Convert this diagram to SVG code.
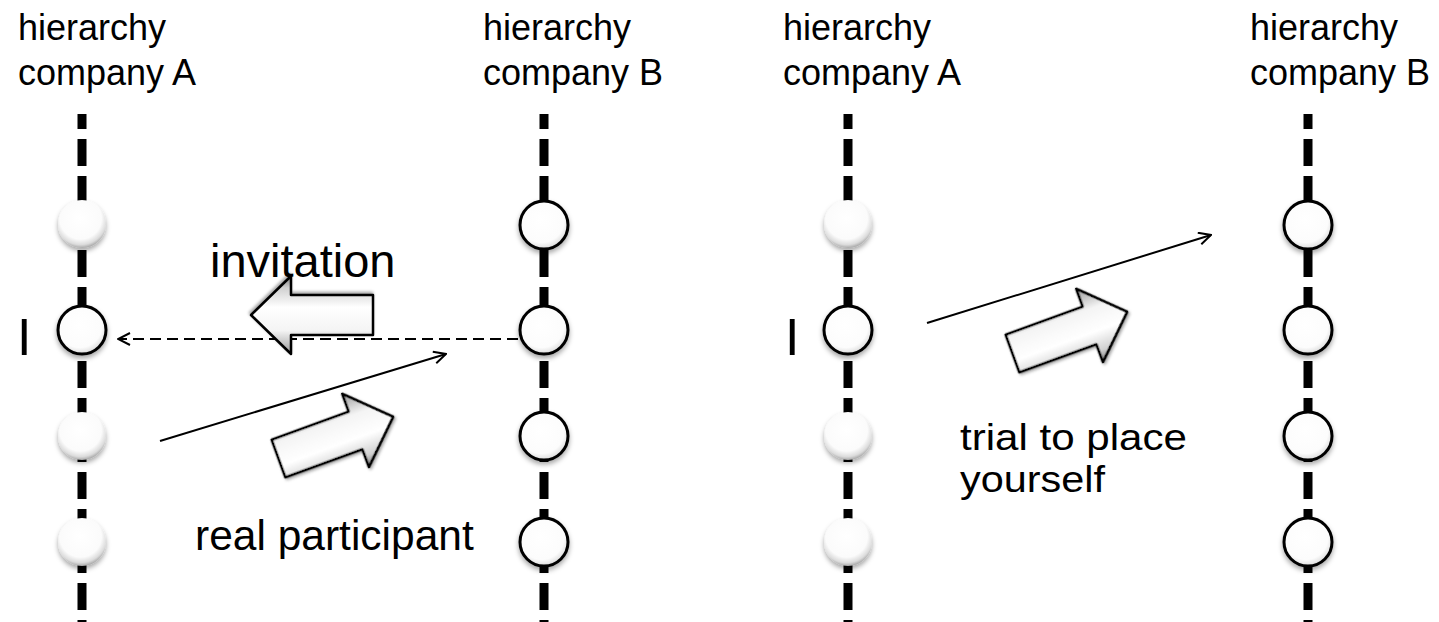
<svg xmlns="http://www.w3.org/2000/svg" width="1439" height="622" viewBox="0 0 1439 622">
<style>
.lbl{font-family:"Liberation Sans",Arial,sans-serif;fill:#000}
.axis{stroke:#000;stroke-width:9;stroke-dasharray:27 10;stroke-dashoffset:12;fill:none}
.shaded{fill:url(#gShade);filter:url(#sh)}
.ring{fill:url(#gRing);stroke:#000;stroke-width:3;filter:url(#sh)}
.conn{stroke:#000;stroke-width:2;fill:none}
.dash{stroke-dasharray:11 6}
.blk{fill:url(#gArrow);stroke:#000;stroke-width:2.5;stroke-linejoin:round;filter:url(#sh2)}
</style>
<defs>
<radialGradient id="gShade" cx="0.47" cy="0.38" r="0.64">
<stop offset="0" stop-color="#fff"/>
<stop offset="0.68" stop-color="#fbfbfb"/>
<stop offset="0.86" stop-color="#dcdcdc"/>
<stop offset="1" stop-color="#9a9a9a"/>
</radialGradient>
<radialGradient id="gRing" cx="0.45" cy="0.4" r="0.62">
<stop offset="0" stop-color="#fff"/>
<stop offset="0.75" stop-color="#fcfcfc"/>
<stop offset="1" stop-color="#d8d8d8"/>
</radialGradient>
<linearGradient id="gArrow" x1="0" y1="0" x2="0" y2="1">
<stop offset="0" stop-color="#9a9a9a"/>
<stop offset="0.3" stop-color="#f4f4f4"/>
<stop offset="0.6" stop-color="#ffffff"/>
<stop offset="0.85" stop-color="#d0d0d0"/>
<stop offset="1" stop-color="#7a7a7a"/>
</linearGradient>
<filter id="sh" x="-30%" y="-30%" width="160%" height="170%">
<feDropShadow dx="0" dy="3" stdDeviation="2.5" flood-color="#000" flood-opacity="0.35"/>
</filter>
<filter id="sh2" x="-20%" y="-30%" width="140%" height="170%">
<feDropShadow dx="1" dy="2" stdDeviation="1.5" flood-color="#000" flood-opacity="0.35"/>
</filter>
<marker id="open" viewBox="0 0 14 14" refX="13" refY="7" markerWidth="14" markerHeight="14" markerUnits="userSpaceOnUse" orient="auto">
<path d="M1,1 L13,7 L1,13" fill="none" stroke="#000" stroke-width="2"/>
</marker>
<path id="blockArrow" d="M0,-20 L82,-20 L82,-39 L122,0 L82,39 L82,20 L0,20 Z"/>
</defs>

<g id="labels">
<text class="lbl" x="18" y="40" font-size="36">hierarchy</text>
<text class="lbl" x="18" y="85" font-size="36">company A</text>
<text class="lbl" x="483" y="40" font-size="36">hierarchy</text>
<text class="lbl" x="483" y="85" font-size="36">company B</text>
<text class="lbl" x="783" y="40" font-size="36">hierarchy</text>
<text class="lbl" x="783" y="85" font-size="36">company A</text>
<text class="lbl" x="1250" y="40" font-size="36">hierarchy</text>
<text class="lbl" x="1250" y="85" font-size="36">company B</text>
<text class="lbl" x="17" y="355" font-size="52">I</text>
<text class="lbl" x="785" y="355" font-size="52">I</text>
</g>

<g id="axes">
<line class="axis" x1="82" y1="114" x2="82" y2="622"/>
<line class="axis" x1="544" y1="114" x2="544" y2="622"/>
<line class="axis" x1="848" y1="114" x2="848" y2="622"/>
<line class="axis" x1="1308" y1="114" x2="1308" y2="622"/>
</g>

<g id="left-A">
<circle class="shaded" cx="82" cy="224" r="24"/>
<circle class="ring" cx="82" cy="330" r="24"/>
<circle class="shaded" cx="82" cy="436" r="24"/>
<circle class="shaded" cx="82" cy="542" r="24"/>
</g>
<g id="left-B">
<circle class="ring" cx="544" cy="225" r="24"/>
<circle class="ring" cx="544" cy="330" r="24"/>
<circle class="ring" cx="544" cy="436" r="24"/>
<circle class="ring" cx="544" cy="542" r="24"/>
</g>
<g id="right-A">
<circle class="shaded" cx="848" cy="224" r="24"/>
<circle class="ring" cx="848" cy="330" r="24"/>
<circle class="shaded" cx="848" cy="436" r="24"/>
<circle class="shaded" cx="848" cy="542" r="24"/>
</g>
<g id="right-B">
<circle class="ring" cx="1308" cy="225" r="24"/>
<circle class="ring" cx="1308" cy="330" r="24"/>
<circle class="ring" cx="1308" cy="436" r="24"/>
<circle class="ring" cx="1308" cy="542" r="24"/>
</g>

<g id="connectors">
<line class="conn dash" x1="518" y1="339" x2="118" y2="339" marker-end="url(#open)"/>
<line class="conn" x1="160" y1="441" x2="446" y2="354" marker-end="url(#open)"/>
<line class="conn" x1="927" y1="323" x2="1211" y2="235" marker-end="url(#open)"/>
</g>

<g id="block-arrows">
<use href="#blockArrow" class="blk" transform="translate(373,315) rotate(180)"/>
<use href="#blockArrow" class="blk" transform="translate(278.5,458.5) rotate(-20)"/>
<use href="#blockArrow" class="blk" transform="translate(1012.5,353.5) rotate(-20)"/>
</g>

<g id="texts">
<text class="lbl" x="210" y="277" font-size="47">invitation</text>
<text class="lbl" x="195" y="550" font-size="42.5">real participant</text>
<text class="lbl" x="960" y="450" font-size="36.5" textLength="227" lengthAdjust="spacingAndGlyphs">trial to place</text>
<text class="lbl" x="960" y="492" font-size="36.5" textLength="145" lengthAdjust="spacingAndGlyphs">yourself</text>
</g>
</svg>
